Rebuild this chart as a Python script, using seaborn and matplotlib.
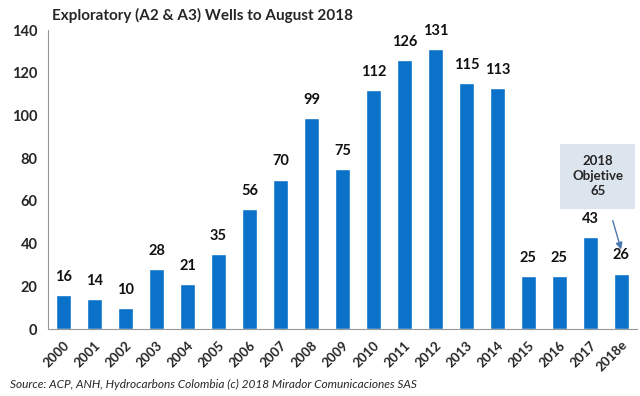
import matplotlib
matplotlib.use('Agg')
import matplotlib.pyplot as plt
import seaborn as sns
import pandas as pd

# Data
years = ['2000', '2001', '2002', '2003', '2004', '2005', '2006', '2007', '2008', '2009',
         '2010', '2011', '2012', '2013', '2014', '2015', '2016', '2017', '2018e']
wells = [16, 14, 10, 28, 21, 35, 56, 70, 99, 75, 112, 126, 131, 115, 113, 25, 25, 43, 26]
y_ticks = [0, 20, 40, 60, 80, 100, 120, 140]
objective_text = '2018\nObjetive\n65'
title = 'Exploratory (A2 & A3) Wells to August 2018'
source = 'Source: ACP, ANH, Hydrocarbons Colombia (c) 2018 Mirador Comunicaciones SAS'

sns.set_style('white')
plt.rcParams['font.family'] = ['Lato', 'DejaVu Sans']

df = pd.DataFrame({'year': years, 'wells': wells})

fig = plt.figure(figsize=(6.4, 3.96), dpi=100)
ax = fig.add_axes([0.075, 0.169, 0.92, 0.755])

sns.barplot(data=df, x='year', y='wells', color='#0A72C8', width=0.48,
            saturation=1, ax=ax)

for i, v in enumerate(wells):
    ax.annotate(str(v), (i, v), xytext=(0, 8), textcoords='offset points',
                ha='center', va='bottom', fontsize=10.5, fontweight='bold',
                color='#111111')

ax.set_ylim(0, 140)
ax.set_yticks(y_ticks)
ax.set_xlim(-0.5, len(years) - 0.5)
ax.set_xlabel('')
ax.set_ylabel('')

# Excel-style ticks between categories
ax.set_xticks(range(len(years)))
ax.set_xticklabels(years, rotation=45, ha='right', rotation_mode='anchor',
                   fontsize=9.5, fontweight='bold')
ax.set_xticks([i - 0.5 for i in range(len(years) + 1)], minor=True)
ax.tick_params(axis='x', which='major', length=0, pad=7)
ax.tick_params(axis='x', which='minor', length=4, color='#999999', direction='out')
ax.tick_params(axis='y', length=4, color='#999999', direction='out', labelsize=10.5)
for lab in ax.get_yticklabels():
    lab.set_fontweight('bold')

sns.despine(ax=ax)
ax.spines['left'].set_color('#999999')
ax.spines['bottom'].set_color('#999999')

fig.text(0.317, 0.962, title, ha='center', va='center', fontsize=11, fontweight='bold')
fig.text(0.015, 0.03, source, ha='left', va='center', fontsize=8.6, style='italic')

ax.text(17.24, 71.5, objective_text, ha='center', va='center', fontsize=9.5,
        fontweight='bold', linespacing=1.3,
        bbox=dict(boxstyle='square,pad=0.9', fc='#DCE4EE', ec='none'))
ax.annotate('', xy=(18.02, 36), xytext=(17.7, 52),
            arrowprops=dict(arrowstyle='-|>', color='#4A78B0', lw=1))

fig.savefig('out.png', dpi=100)
